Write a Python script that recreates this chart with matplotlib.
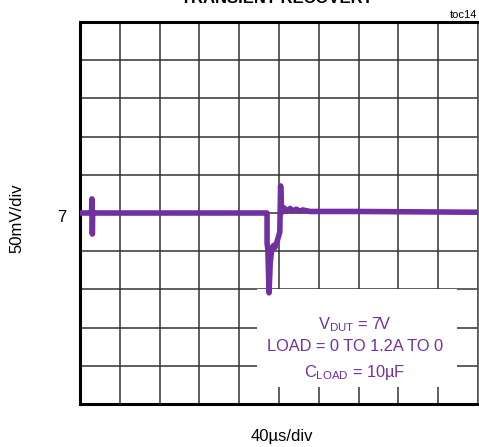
import matplotlib
matplotlib.use("Agg")
import matplotlib.pyplot as plt
from matplotlib.patches import Rectangle

plt.rcParams['font.family'] = ['Liberation Sans', 'DejaVu Sans']

t_div = [0.00, 0.28, 0.29, 0.30, 0.31, 0.32, 0.34, 2.00, 4.70, 4.70, 4.72,
         4.75, 4.78, 4.82, 4.86, 4.90, 4.95, 5.02, 5.04, 5.06, 5.10, 5.13,
         5.20, 5.28, 5.35, 5.43, 5.53, 5.60, 5.78, 7.00, 8.50, 10.00]
v_div = [5.00, 5.00, 5.02, 5.37, 4.45, 5.05, 5.00, 5.00, 5.00, 4.21, 4.05,
         2.91, 3.70, 4.05, 4.15, 4.10, 4.25, 4.50, 5.71, 5.20, 5.03, 5.13,
         5.05, 5.12, 5.05, 5.10, 5.05, 5.08, 5.04, 5.04, 5.03, 5.02]

title = "TRANSIENT RECOVERY"
toc = "toc14"
y_label = "50mV/div"
x_label = "40\u00b5s/div"
level_label = "7"
purple = "#7030a0"

fig = plt.figure(figsize=(4.79, 4.47), dpi=100)
ax = fig.add_axes([80/479, 43/447, 398/479, 382/447])

ax.set_xlim(0, 10)
ax.set_ylim(0, 10)
ax.set_xticks(range(11))
ax.set_yticks(range(11))
ax.tick_params(length=0, labelbottom=False, labelleft=False)
ax.grid(True, color="#333333", lw=1.1, zorder=0)
for s in ax.spines.values():
    s.set_linewidth(2.2)
    s.set_color("black")
ax.spines['right'].set_linewidth(1.2)
ax.spines['right'].set_color("#555555")

ax.plot(t_div, v_div, color=purple, lw=4.0, zorder=3)

# white box behind the conditions text
ax.add_patch(Rectangle((4.44, 0.45), 5.02, 2.55, facecolor="white",
                       edgecolor="none", zorder=2))
ax.text(6.9, 2.08, "V$_{\\mathregular{DUT}}$ = 7V", color=purple, fontsize=11.8,
        ha="center", va="center", zorder=4)
ax.text(6.9, 1.50, "LOAD = 0 TO 1.2A TO 0", color=purple, fontsize=11.8,
        ha="center", va="center", zorder=4)
ax.text(6.9, 0.82, "C$_{\\mathregular{LOAD}}$ = 10\u00b5F", color=purple, fontsize=11.8,
        ha="center", va="center", zorder=4)

fig.text(277/479, 1 - 3/447, title, fontsize=12, fontweight="bold",
         ha="center", va="baseline")
fig.text(477/479, 1 - 15/447, toc, fontsize=8, ha="right", va="center")
fig.text(62/479, 1 - 217/447, level_label, fontsize=12, ha="center", va="center")
fig.text(17/479, 1 - 218/447, y_label, fontsize=12, rotation=90,
         ha="center", va="center")
fig.text(282/479, 1 - 437/447, x_label, fontsize=12, ha="center", va="center")

fig.savefig("out.png", dpi=100)
